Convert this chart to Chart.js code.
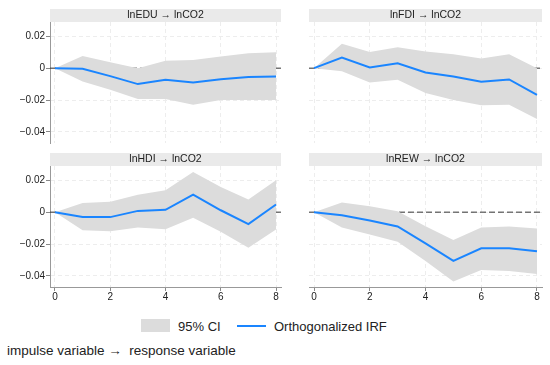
<!DOCTYPE html>
<html lang="en">
<head>
<meta charset="UTF-8">
<title>Orthogonalized IRF</title>
<script src="https://cdn.jsdelivr.net/npm/chart.js"></script>
<style>
    body { margin: 0; width: 550px; height: 365px; background: #fff; position: relative; overflow: hidden;
           font-family: "Liberation Sans", Arial, sans-serif; color: #222; }
    canvas { position: absolute; }
    .swatch { position: absolute; }
    .lbl { position: absolute; font-size: 13px; line-height: 13px; white-space: nowrap; }
</style>
</head>
<body>
    <canvas id="pEDU" width="285" height="150" style="left:0;top:0"></canvas>
    <canvas id="pFDI" width="260" height="150" style="left:290px;top:0"></canvas>
    <canvas id="pHDI" width="285" height="160" style="left:0;top:144px"></canvas>
    <canvas id="pREW" width="260" height="160" style="left:290px;top:144px"></canvas>

    <div class="swatch" style="left:141px;top:319px;width:29px;height:13px;background:#dcdcdc"></div>
    <div class="lbl" style="left:178px;top:320px">95% CI</div>
    <div class="swatch" style="left:237px;top:325px;width:29px;height:2px;background:#1a85ff"></div>
    <div class="lbl" style="left:274px;top:320px">Orthogonalized IRF</div>
    <div class="lbl" style="left:7px;top:344px;font-size:13.5px">impulse variable &rarr;&nbsp;&nbsp;response variable</div>

<script>
    // forecast horizon and axis ticks
    const steps = [0, 1, 2, 3, 4, 5, 6, 7, 8];
    const xTicks = [0, 2, 4, 6, 8];
    const yTicks = [0.02, 0, -0.02, -0.04];

    // lnEDU -> lnCO2
    const eduIrf = [0, -0.0004, -0.005, -0.010, -0.0073, -0.009, -0.0069, -0.0056, -0.0052];
    const eduLo  = [0, -0.0083, -0.0135, -0.0194, -0.0194, -0.023, -0.020, -0.020, -0.020];
    const eduHi  = [0, 0.0077, 0.0037, 0.0000, 0.0046, 0.0052, 0.0073, 0.0094, 0.0100];

    // lnFDI -> lnCO2
    const fdiIrf = [0, 0.0067, 0.0004, 0.0031, -0.0027, -0.0052, -0.0085, -0.0071, -0.0167];
    const fdiLo  = [0, -0.0019, -0.009, -0.0073, -0.0156, -0.020, -0.0233, -0.0229, -0.032];
    const fdiHi  = [0, 0.0154, 0.0102, 0.0131, 0.0104, 0.0087, 0.0060, 0.0087, 0.0000];

    // lnHDI -> lnCO2
    const hdiIrf = [0, -0.0031, -0.0031, 0.0008, 0.0015, 0.0110, 0.0012, -0.0075, 0.0048];
    const hdiLo  = [0, -0.0113, -0.012, -0.0096, -0.0108, -0.0035, -0.0123, -0.0223, -0.0108];
    const hdiHi  = [0, 0.0058, 0.0065, 0.0110, 0.0138, 0.0252, 0.0158, 0.0079, 0.0200];

    // lnREW -> lnCO2
    const rewIrf = [0, -0.0019, -0.0052, -0.009, -0.0196, -0.0306, -0.0227, -0.0227, -0.0246];
    const rewLo  = [0, -0.0096, -0.014, -0.0185, -0.0306, -0.0435, -0.0363, -0.0369, -0.0388];
    const rewHi  = [0, 0.0060, 0.0037, 0.0006, -0.0088, -0.0175, -0.0096, -0.0090, -0.0102];

    const X_MIN = -0.18, X_MAX = 8.18;
    const FONT = '"Liberation Sans", Arial, sans-serif';

    // grey strip with the panel title above each plot region
    const stripPlugin = {
        id: 'strip',
        beforeDraw(chart, args, opts) {
            const { ctx, chartArea: a } = chart;
            ctx.save();
            ctx.fillStyle = '#eaeaea';
            ctx.fillRect(a.left, a.top - 13, a.right - a.left, 13);
            ctx.fillStyle = '#222';
            ctx.font = '10.5px ' + FONT;
            ctx.textAlign = 'center';
            ctx.textBaseline = 'middle';
            ctx.fillText(opts.text, (a.left + a.right) / 2, a.top - 6.5);
            ctx.restore();
        }
    };

    function pts(arr) {
        return steps.map((s, i) => ({ x: s, y: arr[i] }));
    }

    function yLabel(v) {
        if (v === 0) return '0';
        return (v < 0 ? '\u2212' : '') + Math.abs(v).toFixed(2);
    }

    function makePanel(id, title, irf, lo, hi, showY, showX) {
        const ctx = document.getElementById(id).getContext('2d');
        return new Chart(ctx, {
            type: 'line',
            data: {
                datasets: [
                    { data: pts(irf), borderColor: '#1a85ff', borderWidth: 2, pointRadius: 0, fill: false, order: 0 },
                    { data: pts(hi), borderColor: 'transparent', borderWidth: 0, pointRadius: 0,
                      backgroundColor: '#dcdcdc', fill: '+1', order: 1 },
                    { data: pts(lo), borderColor: 'transparent', borderWidth: 0, pointRadius: 0, fill: false, order: 2 },
                    { data: [{ x: X_MIN, y: 0 }, { x: X_MAX, y: 0 }], borderColor: '#333', borderWidth: 1,
                      borderDash: [6, 3], pointRadius: 0, fill: false, order: 3 }
                ]
            },
            options: {
                responsive: false,
                animation: false,
                devicePixelRatio: 1,
                elements: { line: { tension: 0 } },
                layout: { padding: { top: 22, left: showY ? 0 : 19, right: showY ? 4 : 8, bottom: showX ? 0 : 7 } },
                plugins: {
                    legend: { display: false },
                    tooltip: { enabled: false },
                    strip: { text: title }
                },
                scales: {
                    x: {
                        type: 'linear',
                        min: X_MIN,
                        max: X_MAX,
                        afterBuildTicks: s => { s.ticks = xTicks.map(v => ({ value: v })); },
                        afterFit: s => { s.height = showX ? 17 : 0; },
                        ticks: { display: showX, padding: 0, color: '#222', font: { size: 10, family: FONT } },
                        grid: { color: '#ededed', drawTicks: showX, tickLength: 4, tickColor: '#888', tickBorderDash: [] },
                        border: { display: showX, color: '#999', width: 1, dash: [4, 3] }
                    },
                    y: {
                        min: -0.047,
                        max: 0.029,
                        afterBuildTicks: s => { s.ticks = yTicks.map(v => ({ value: v })); },
                        afterFit: s => { s.width = showY ? 50 : 0; },
                        ticks: { display: showY, padding: 1, color: '#222', font: { size: 10, family: FONT }, callback: yLabel },
                        grid: { color: '#ededed', drawTicks: showY, tickLength: 4, tickColor: '#888', tickBorderDash: [] },
                        border: { display: showY, color: '#999', width: 1, dash: [4, 3] }
                    }
                }
            },
            plugins: [stripPlugin]
        });
    }

    makePanel('pEDU', 'lnEDU \u2192 lnCO2', eduIrf, eduLo, eduHi, true, false);
    makePanel('pFDI', 'lnFDI \u2192 lnCO2', fdiIrf, fdiLo, fdiHi, false, false);
    makePanel('pHDI', 'lnHDI \u2192 lnCO2', hdiIrf, hdiLo, hdiHi, true, true);
    makePanel('pREW', 'lnREW \u2192 lnCO2', rewIrf, rewLo, rewHi, false, true);
</script>
</body>
</html>
